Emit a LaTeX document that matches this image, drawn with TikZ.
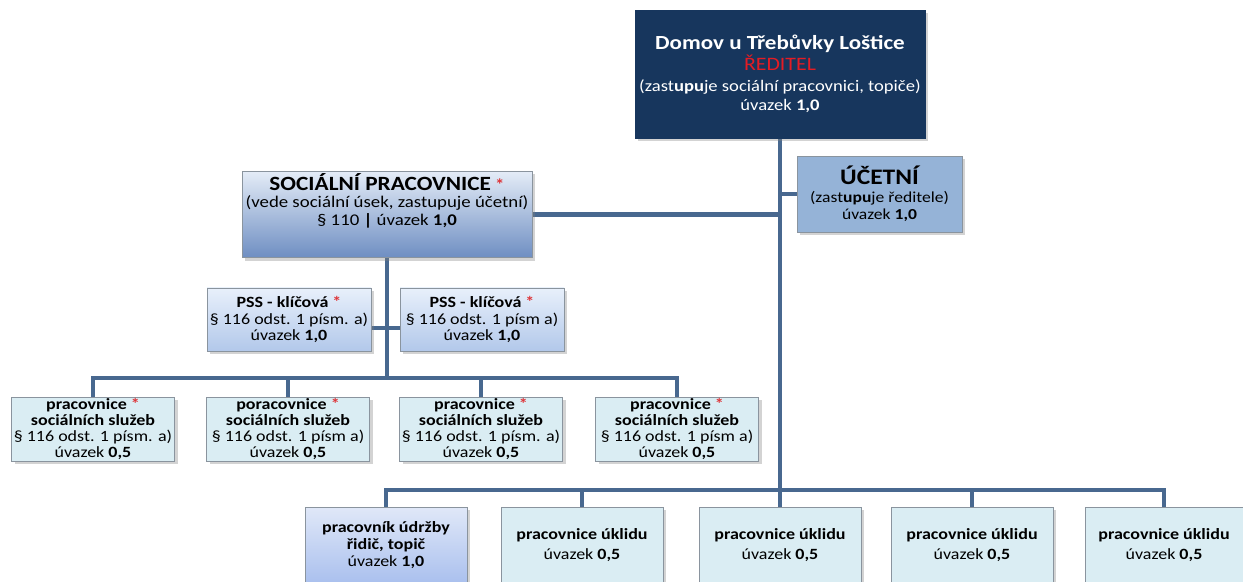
\documentclass[tikz,border=0pt]{standalone}
\usepackage{fontspec}
\setmainfont{Carlito}[FakeStretch=1.15]
\usetikzlibrary{positioning, shadows, backgrounds}

\definecolor{navy}{RGB}{23,54,93}
\definecolor{linkblue}{RGB}{72,104,143}
\definecolor{paleblue}{RGB}{218,237,243}
\definecolor{midblue}{RGB}{149,179,215}
\definecolor{boxgray}{RGB}{138,148,158}
\definecolor{socTop}{RGB}{228,236,247}
\definecolor{socBot}{RGB}{110,142,194}
\definecolor{pssTop}{RGB}{232,240,251}
\definecolor{pssBot}{RGB}{178,200,234}
\definecolor{mntTop}{RGB}{224,232,248}
\definecolor{mntBot}{RGB}{170,192,238}
\definecolor{starred}{RGB}{222,52,56}
\definecolor{headred}{RGB}{228,28,36}

\newcommand{\redstar}{\textcolor{starred}{\bfseries *}}

\begin{document}
\begin{tikzpicture}[
      box/.style={draw=boxgray, line width=0.4pt, align=center, inner sep=1pt,
                  font=\fontsize{8.9}{9.0}\selectfont,
                  drop shadow={opacity=0.35, shadow xshift=1.8pt, shadow yshift=-1.8pt}},
      leadbox/.style={box, fill=navy, draw=navy, text=white,
                  minimum width=5.8cm, minimum height=2.56cm,
                  font=\fontsize{9.2}{10.8}\selectfont},
      headbox/.style={box, top color=socTop, bottom color=socBot,
                  minimum width=5.8cm, minimum height=1.7cm, text depth=0.6cm,
                  font=\fontsize{9.3}{10.2}\selectfont},
      accbox/.style={box, fill=midblue, minimum width=3.3cm, minimum height=1.52cm,
                  font=\fontsize{8.7}{10}\selectfont},
      keybox/.style={box, top color=pssTop, bottom color=pssBot,
                  minimum width=3.28cm, minimum height=1.26cm,
                  font=\fontsize{8.9}{9.6}\selectfont},
      workbox/.style={box, fill=paleblue, minimum width=3.26cm, minimum height=1.24cm},
      cleanbox/.style={box, fill=paleblue, minimum width=3.24cm, minimum height=1.52cm,
                  font=\fontsize{8.9}{11}\selectfont},
      mntbox/.style={box, top color=mntTop, bottom color=mntBot,
                  minimum width=3.24cm, minimum height=1.52cm,
                  font=\fontsize{8.9}{9.8}\selectfont},
      link/.style={draw=linkblue, line width=2.8pt, line cap=rect}]

    % ---- Frame ----
    \useasboundingbox (0,0) rectangle (24.86,-11.64);
    \clip (0,0) rectangle (24.86,-11.64);

    % ---- Layout ----
    \def\ya{-7.56}    % bus above social workers
    \def\yb{-9.80}    % bus above bottom row
    \def\ypss{-6.56}  % stub between PSS boxes
    \def\yw{-8.58}    % social workers y
    \def\yc{-10.90}   % bottom row y

    % ---- Management ----
    \node[leadbox] (dir) at (15.60,-1.48)
        {{\bfseries\fontsize{11.4}{13}\selectfont Domov u Třebůvky Loštice}\\[1pt]
         {\color{headred}\fontsize{10.8}{12}\selectfont ŘEDITEL}\\[1pt]
         (zast\textbf{upu}je sociální pracovnici, topiče)\\
         úvazek \textbf{1,0}};
    \node[accbox] (acc) at (17.59,-3.88)
        {{\bfseries\fontsize{12.6}{13}\selectfont ÚČETNÍ}\\
         (zast\textbf{upu}je ředitele)\\
         úvazek \textbf{1,0}};
    \node[headbox] (soc) at (7.74,-4.29)
        {{\bfseries\fontsize{11.5}{13}\selectfont SOCIÁLNÍ PRACOVNICE} \redstar\\
         (vede sociální úsek, zastupuje účetní)\\
         § 110 \textbf{|} úvazek \textbf{1,0}};

    % ---- Key workers ----
    \node[keybox] (pss1) at (5.78,-6.39)
        {\textbf{PSS - klíčová} \redstar\\ § 116 odst. 1 písm. a)\\ úvazek \textbf{1,0}};
    \node[keybox] (pss2) at (9.64,-6.39)
        {\textbf{PSS - klíčová} \redstar\\ § 116 odst. 1 písm a)\\ úvazek \textbf{1,0}};

    % ---- Social service workers ----
    \node[workbox] (sw1) at (1.86,\yw)
        {\textbf{pracovnice} \redstar\\ \textbf{sociálních služeb}\\ § 116 odst. 1 písm. a)\\ úvazek \textbf{0,5}};
    \node[workbox] (sw2) at (5.76,\yw)
        {\textbf{poracovnice} \redstar\\ \textbf{sociálních služeb}\\ § 116 odst. 1 písm a)\\ úvazek \textbf{0,5}};
    \node[workbox] (sw3) at (9.62,\yw)
        {\textbf{pracovnice} \redstar\\ \textbf{sociálních služeb}\\ § 116 odst. 1 písm. a)\\ úvazek \textbf{0,5}};
    \node[workbox] (sw4) at (13.54,\yw)
        {\textbf{pracovnice} \redstar\\ \textbf{sociálních služeb}\\ § 116 odst. 1 písm a)\\ úvazek \textbf{0,5}};

    % ---- Operations (cut at bottom edge) ----
    \node[mntbox] (mnt) at (7.72,\yc)
        {\textbf{pracovník údržby}\\ \textbf{řidič, topič}\\ úvazek \textbf{1,0}};
    \node[cleanbox] (cl1) at (11.64,\yc) {\textbf{pracovnice úklidu}\\ úvazek \textbf{0,5}};
    \node[cleanbox] (cl2) at (15.60,\yc) {\textbf{pracovnice úklidu}\\ úvazek \textbf{0,5}};
    \node[cleanbox] (cl3) at (19.44,\yc) {\textbf{pracovnice úklidu}\\ úvazek \textbf{0,5}};
    \node[cleanbox, minimum width=3.16cm] (cl4) at (23.28,\yc) {\textbf{pracovnice úklidu}\\ úvazek \textbf{0,5}};

    % ---- Connectors (behind the boxes) ----
    \coordinate (busA) at (0,\ya);
    \coordinate (busB) at (0,\yb);
    \coordinate (stub) at (0,\ypss);
    \begin{scope}[on background layer]
    % trunk from director to bottom bus
    \draw[link] (dir.south) -- (dir.south |- busB);
    \draw[link] (acc.west) -- (acc.west -| dir.south);
    \draw[link] (soc.east) -- (soc.east -| dir.south);
    % social branch
    \draw[link] (soc.south) -- (soc.south |- busA);
    \draw[link] (pss1.east |- stub) -- (pss2.west |- stub);
    \draw[link] (sw1.north |- busA) -- (sw4.north |- busA);
    \draw[link] (sw1.north) -- (sw1.north |- busA);
    \draw[link] (sw2.north) -- (sw2.north |- busA);
    \draw[link] (sw3.north) -- (sw3.north |- busA);
    \draw[link] (sw4.north) -- (sw4.north |- busA);
    % bottom bus
    \draw[link] (mnt.north |- busB) -- (cl4.north |- busB);
    \draw[link] (mnt.north) -- (mnt.north |- busB);
    \draw[link] (cl1.north) -- (cl1.north |- busB);
    \draw[link] (cl2.north) -- (cl2.north |- busB);
    \draw[link] (cl3.north) -- (cl3.north |- busB);
    \draw[link] (cl4.north) -- (cl4.north |- busB);
    \end{scope}

\end{tikzpicture}
\end{document}
